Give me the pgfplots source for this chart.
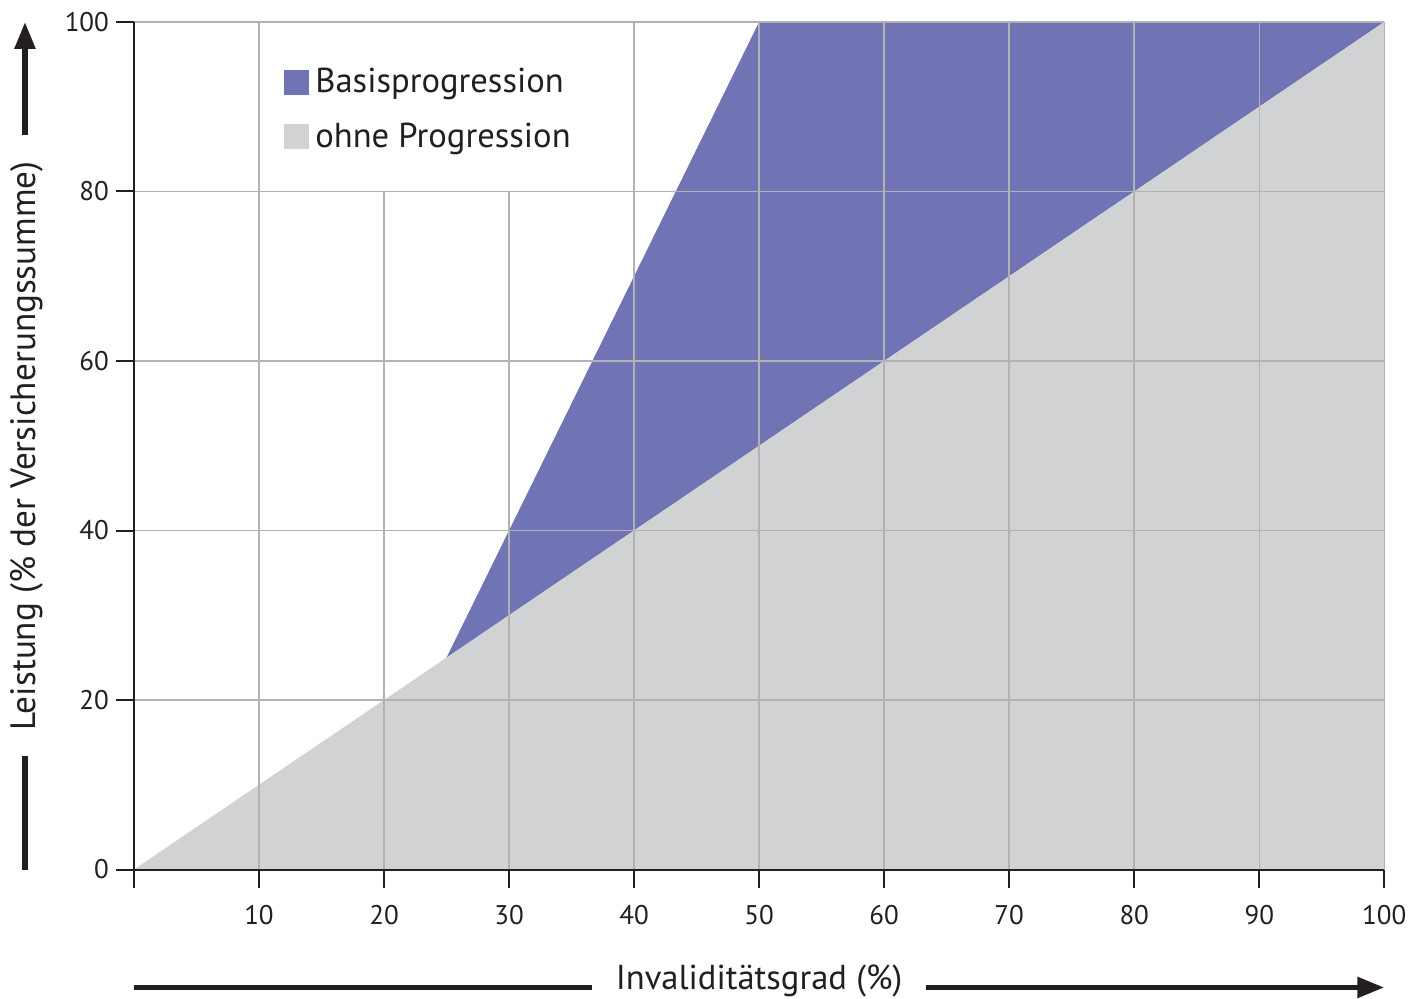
\documentclass[border=0pt]{standalone}
\usepackage{fontspec}
\setmainfont{PT Sans}
\usepackage{pgfplots}
\pgfplotsset{compat=1.18}
\usetikzlibrary{arrows.meta}
\definecolor{blueP}{RGB}{112,115,180}
\definecolor{greyP}{RGB}{209,210,212}
\definecolor{gridc}{RGB}{178,178,178}
\definecolor{ink}{RGB}{35,31,32}
\begin{document}
\begin{tikzpicture}
\begin{axis}[
  name=ax,
  scale only axis, width=625.5pt, height=424pt,
  xmin=0, xmax=100, ymin=0, ymax=100,
  axis x line*=bottom, axis y line*=left,
  axis line style={ink, line width=1pt},
  set layers, axis on top, clip=false,
  xtick={0,10,...,100},
  xticklabels={,10,20,30,40,50,60,70,80,90,100},
  ytick={0,20,...,100},
  tick align=outside, major tick length=9pt,
  tick style={ink, line width=1pt},
  grid=major, major grid style={gridc, line width=0.75pt},
  tick label style={font=\fontsize{13.5}{16}\selectfont, text=ink},
  xticklabel style={yshift=-5.5pt},
  /pgf/number format/assume math mode=true,
  legend style={draw=none, fill=none, at={(axis cs:12,100)}, anchor=north west,
    yshift=-21pt, font=\fontsize{17.3}{20}\selectfont, text=ink, row sep=9.5pt, inner sep=0pt,
    nodes={inner xsep=3pt}},
  legend cell align=left,
  legend image code/.code={\fill[#1] (0pt,-6.25pt) rectangle (12.5pt,6.25pt);},
]
\addplot[fill=blueP, draw=none] coordinates {(25,25) (30,40) (40,70) (50,100) (100,100) (25,25)};
\addlegendentry{Basisprogression}
\addplot[fill=greyP, draw=none] coordinates {(0,0) (100,100) (100,0) (0,0)};
\addlegendentry{ohne Progression}
\addplot[fill=white, draw=gridc, line width=0.75pt, on layer=axis ticks, forget plot]
  coordinates {(10,80) (40,80) (40,100) (10,100) (10,80)};
\end{axis}
\draw[ink, line width=2.8pt, -{Triangle[length=13.5pt,width=10pt]}]
  ([xshift=-54.5pt]ax.south west) -- ([xshift=-54.5pt]ax.north west)
  node[midway, rotate=90, fill=white, inner xsep=13pt, inner ysep=2pt, yshift=-1pt,
       font=\fontsize{17.6}{20}\selectfont, text=ink] {Leistung (\% der Versicherungssumme)};
\draw[ink, line width=2.8pt, -{Triangle[length=13.5pt,width=10pt]}]
  ([yshift=-59pt]ax.south west) -- ([yshift=-59pt]ax.south east);
\node[fill=white, inner xsep=12pt, inner ysep=1pt, font=\fontsize{17.3}{20}\selectfont, text=ink]
  at ([yshift=-55.5pt]ax.south) {Invaliditätsgrad (\%)};
\path ([shift={(-67pt,-63pt)}]ax.south west) rectangle ([shift={(14pt,11pt)}]ax.north east);
\end{tikzpicture}
\end{document}
